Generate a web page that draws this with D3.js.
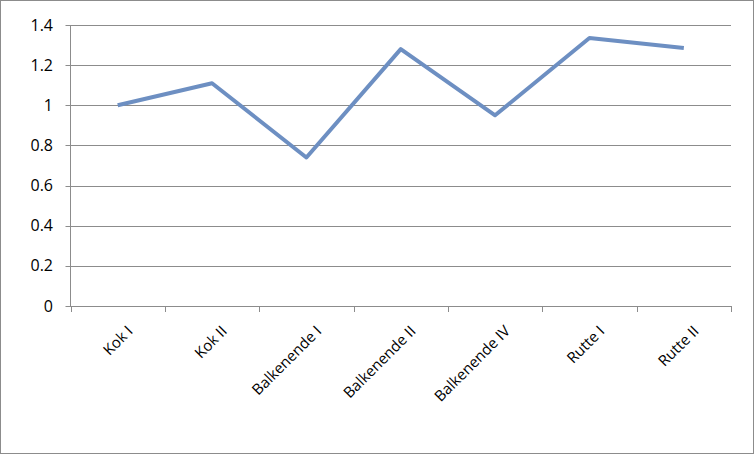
<!DOCTYPE html>
<html><head><meta charset="utf-8">
<script src="https://cdnjs.cloudflare.com/ajax/libs/d3/7.9.0/d3.min.js"></script>
<style>body{margin:0;background:#fff}svg{display:block}</style>
</head><body>
<script>
const categories = ["Kok I", "Kok II", "Balkenende I", "Balkenende II", "Balkenende IV", "Rutte I", "Rutte II"];
const values = [1.0, 1.11, 0.74, 1.28, 0.95, 1.335, 1.285];
const yTicks = [0, 0.2, 0.4, 0.6, 0.8, 1, 1.2, 1.4];

const W = 754, H = 454;
const m = { left: 70.5, right: 731, top: 25, bottom: 306 };

const svg = d3.select("body").append("svg").attr("width", W).attr("height", H)
  .style("font-family", "'Open Sans', 'Liberation Sans', sans-serif");

svg.append("rect").attr("x", 0.5).attr("y", 0.5).attr("width", W - 1).attr("height", H - 1)
  .attr("fill", "#fff").attr("stroke", "#8c8c8c");

const x = d3.scaleBand().domain(categories).range([m.left, m.right]);
const y = d3.scaleLinear().domain([0, 1.4]).range([m.bottom, m.top]);

// gridlines + y labels
const gy = svg.append("g");
yTicks.forEach(t => {
  gy.append("line").attr("x1", m.left - 5).attr("x2", m.right)
    .attr("y1", Math.round(y(t)) + 0.5).attr("y2", Math.round(y(t)) + 0.5)
    .attr("stroke", "#8c8c8c").attr("stroke-width", 1);
  gy.append("text").attr("x", 53).attr("y", y(t)).attr("dy", "0.35em")
    .attr("text-anchor", "end").attr("font-size", 16).attr("fill", "#000")
    .text(d3.format("~g")(t));
});

svg.append("line").attr("x1", m.left).attr("x2", m.left).attr("y1", m.top).attr("y2", m.bottom)
  .attr("stroke", "#8c8c8c");

const bounds = categories.map(c => x(c)).concat([m.right]);
bounds.forEach(b => {
  svg.append("line").attr("x1", Math.round(b) + 0.5).attr("x2", Math.round(b) + 0.5)
    .attr("y1", m.bottom).attr("y2", m.bottom + 6).attr("stroke", "#8c8c8c");
});

categories.forEach(c => {
  const cx = x(c) + x.bandwidth() / 2;
  svg.append("text")
    .attr("transform", `translate(${cx + 16},${m.bottom + 26}) rotate(-45)`)
    .attr("text-anchor", "end").attr("font-size", 15).attr("fill", "#000")
    .text(c);
});

const line = d3.line().x((d, i) => x(categories[i]) + x.bandwidth() / 2).y(d => y(d));
svg.append("path").datum(values).attr("d", line)
  .attr("fill", "none").attr("stroke", "#6d8fc2").attr("stroke-width", 4)
  .attr("stroke-linejoin", "round");
</script>
</body></html>
